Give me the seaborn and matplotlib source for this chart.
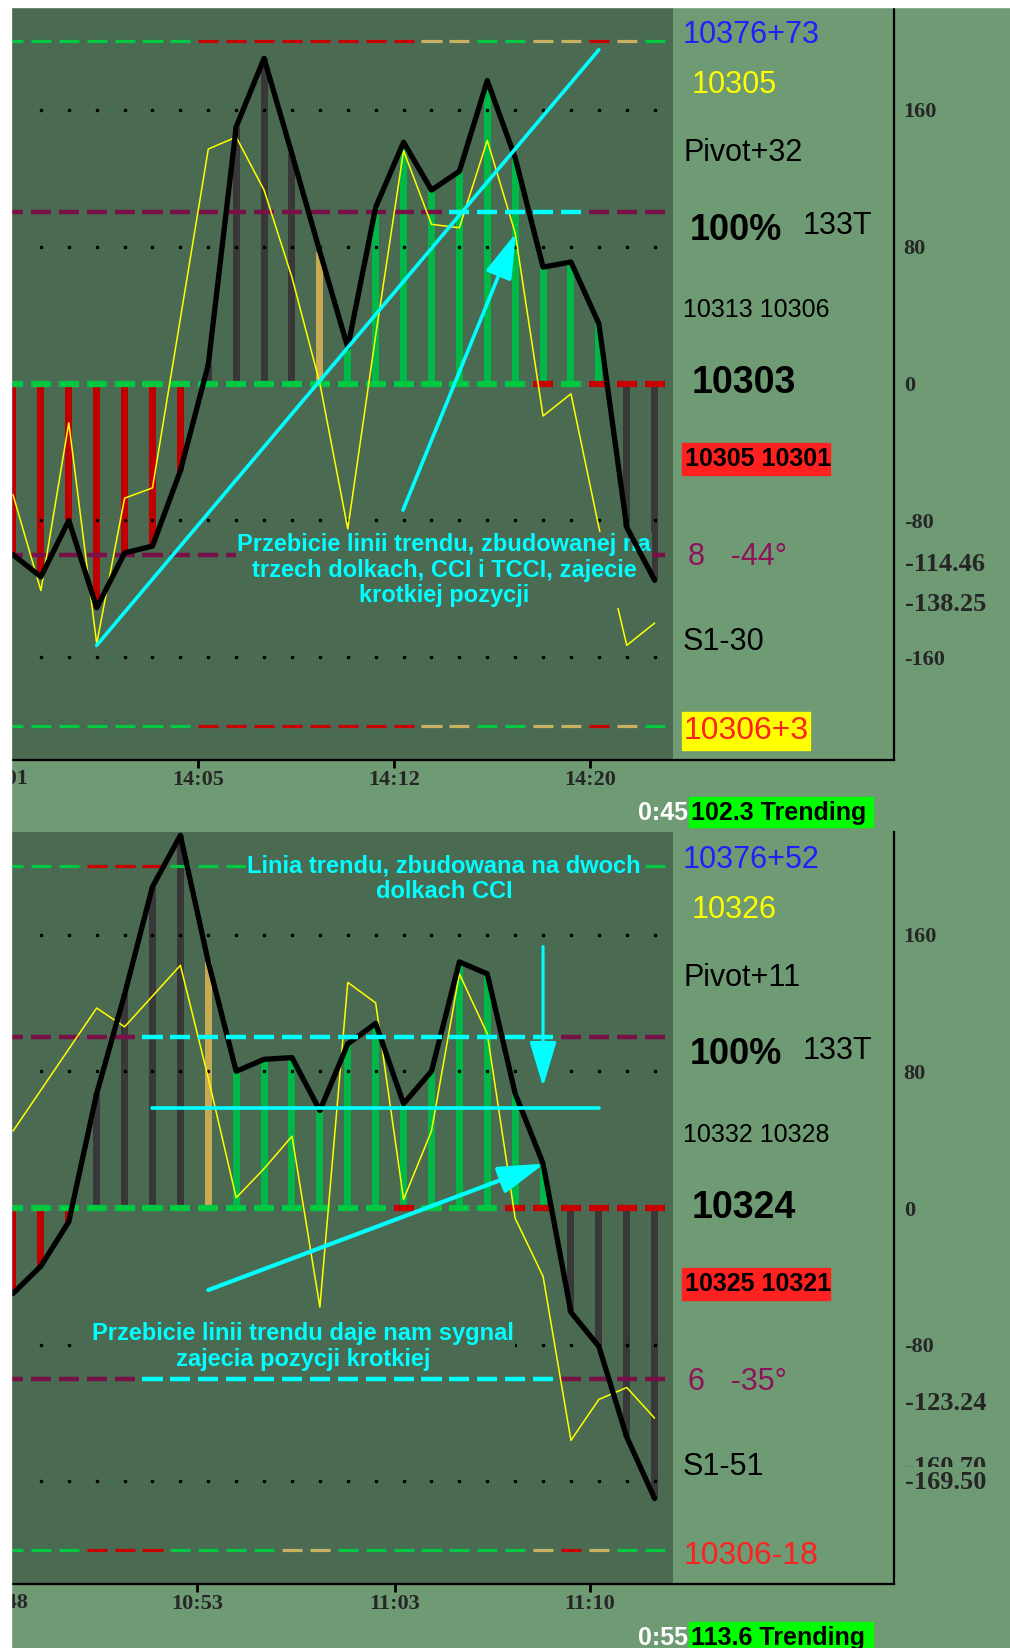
import numpy as np
import pandas as pd
import matplotlib
matplotlib.use('Agg')
import matplotlib.pyplot as plt
from matplotlib.patches import Rectangle
import seaborn as sns

W, H = 1010, 1648
DARK = '#4a6a52'
LIGHT = '#6e9a74'
CYAN = '#00ffff'

sns.set_theme(style='white')
plt.rcParams['font.family'] = ['Liberation Sans', 'DejaVu Sans']

# ---------------- data ----------------
bars = list(range(24))

# upper chart (14:01 - 14:21)
cci_top = [-100, -113, -80, -131, -99, -95, -51, 11, 150, 190, 134, 77,
           21, 103, 141, 113, 124, 177, 132, 68, 71, 35, -84, -115]
tcci_top = [-65, -121, -23, -152, -67, -61, 38, 137, 144, 113, 62, 0,
            -85, 28, 136, 93, 91, 142, 88, -19, -6, -84, -153, -140]
state_top = list('rrrrrrr' 'kkkk' 'y' 'gggggggggg' 'kk')
lv200_top = 'ggggggg' 'rrrrrrrr' 'yy' 'gg' 'yy' 'r' 'y' 'g'
lv100_top = 'p' * 16 + 'c' * 5 + 'p' * 3
lv0_top = 'g' * 19 + 'r' + 'g' + 'rrr'
lvm100_top = 'p' * 24
ticks_top = [6.63, 13.66, 20.68]
labels_top = ['14:05', '14:12', '14:20']
cut_top = '14:01'
end_top = [-114.46, -138.25]

# lower chart (10:48 - 11:12)
cci_bot = [-50, -34, -8, 67, 125, 188, 218, 144, 80, 87, 88, 57,
           96, 108, 61, 80, 144, 137, 67, 26, -61, -81, -134, -170]
tcci_bot = [45, 69, 93, 117, 106, 124, 142, 76, 6, 23, 42, -58,
            132, 120, 5, 45, 137, 102, -6, -40, -136, -112, -105, -123]
state_bot = list('rrr' 'kkkk' 'y' 'gggggggggggg' 'kkkk')
lv200_bot = 'ggg' 'rrr' 'gggg' 'yy' 'ggggggg' 'y' 'r' 'y' 'gg'
lv100_bot = 'ppppp' + 'c' * 15 + 'pppp'
lv0_bot = 'g' * 14 + 'r' + 'ggg' + 'r' * 6
lvm100_bot = lv100_bot
ticks_bot = [6.60, 13.69, 20.68]
labels_bot = ['10:53', '11:03', '11:10']
cut_bot = '10:48'
end_bot = [-123.24, -160.70, -169.50]

yticks = [160, 80, 0, -80, -160]

# hand-drawn annotations
trend_top_x, trend_top_y = [3, 21], [-153, 195]
arrow_top = [(13.98, -74), (18.03, 88)]
note_top = 'Przebicie linii trendu, zbudowanej na\ntrzech dolkach, CCI i TCCI, zajecie\nkrotkiej pozycji'
flat_bot_x, flat_bot_y = [5, 21], [58.5, 58.5]
arrow_down_bot = [(19.0, 153), (19.0, 71)]
arrow_diag_bot = [(7.0, -48), (19.05, 26)]
note_bot1 = 'Linia trendu, zbudowana na dwoch\ndolkach CCI'
note_bot2 = 'Przebicie linii trendu daje nam sygnal\nzajecia pozycji krotkiej'

info_top = ['10376+73', '10305', 'Pivot+32', '100%', '133T', '10313 10306',
            '10303', '10305 10301', '8   -44°', 'S1-30', '10306+3', '0:45', '102.3 Trending']
info_bot = ['10376+52', '10326', 'Pivot+11', '100%', '133T', '10332 10328',
            '10324', '10325 10321', '6   -35°', 'S1-51', '10306-18', '0:55', '113.6 Trending']

BAR_COLORS = {'r': '#c00000', 'k': '#383838', 'y': '#c8aa55', 'g': '#00b848'}
LEVEL_COLORS = {'g': '#00c840', 'r': '#c80000', 'y': '#c8b060', 'p': '#7a1048', 'c': CYAN}

X0, X1, XDARK = -0.072, 31.58, 23.66


def px_to_fig(x, y):
    return x / W, 1 - y / H


def level(ax, y, codes, lw):
    for code in sorted(set(codes)):
        xs = np.array([i for i, c in zip(bars, codes) if c == code])
        ax.hlines([y] * len(xs), xs - 0.36, xs + 0.36, colors=LEVEL_COLORS[code],
                  linewidth=lw, zorder=6 if code == 'c' else 2)


def panel(ax, cci, tcci, state, l200, l100, l0, lm100, ticks, labels, cut, ends):
    ax.set_facecolor(LIGHT)
    ax.axvspan(X0, XDARK, color=DARK, zorder=0, lw=0)
    df = pd.DataFrame({'bar': bars, 'cci': cci, 'state': state})
    sns.barplot(data=df, x='bar', y='cci', hue='state', palette=BAR_COLORS, dodge=False,
                native_scale=True, width=0.25, errorbar=None, legend=False,
                saturation=1, ax=ax, zorder=1, edgecolor='none', linewidth=0)
    for lv in yticks:
        if lv != 0:
            ax.plot(bars[1:], [lv] * (len(bars) - 1), ls='none', marker='s', ms=1.4,
                    color='black', zorder=2)
    level(ax, 200, l200, 2.3)
    level(ax, -200, l200, 2.3)
    level(ax, 100, l100, 3.2)
    level(ax, -100, lm100, 3.2)
    level(ax, 0, l0, 4.5)
    sns.lineplot(x=bars, y=tcci, color='#ffff00', linewidth=1.1, ax=ax, zorder=3)
    sns.lineplot(x=bars, y=cci, color='black', linewidth=3.8, ax=ax, zorder=5)

    ax.set_xlim(X0, X1)
    ax.set_ylim(-220, 220)
    ax.set_xlabel('')
    ax.set_ylabel('')
    ax.set_xticks(ticks)
    ax.set_xticklabels(labels, fontfamily='Liberation Serif', fontweight='bold', fontsize=16)
    ax.tick_params(axis='x', direction='out', length=6, width=2, color='black', pad=1.5,
                   bottom=True)
    ax.yaxis.tick_right()
    ax.set_yticks(yticks)
    ax.set_yticklabels([str(t) for t in yticks], fontfamily='Liberation Serif',
                       fontweight='bold', fontsize=16)
    ax.tick_params(axis='y', length=0, pad=7)
    for side in ['left', 'right', 'bottom']:
        ax.spines[side].set_visible(True)
        ax.spines[side].set_color('black')
        ax.spines[side].set_linewidth(1.6)
    ax.spines['top'].set_visible(False)
    ax.text(-0.39, -0.012, cut, transform=ax.get_xaxis_transform(), ha='center', va='top',
            fontfamily='Liberation Serif', fontweight='bold', fontsize=16, clip_on=False)
    for k, v in enumerate(ends):
        last = k == len(ends) - 1 and len(ends) == 3
        ax.annotate(f'{v:.2f}', xy=(1, v), xycoords=('axes fraction', 'data'),
                    xytext=(8, 11), textcoords='offset points', va='center', ha='left',
                    fontfamily='Liberation Serif', fontweight='bold', fontsize=19,
                    annotation_clip=False,
                    bbox=dict(fc=LIGHT, ec='none', pad=2.5) if last else None)


def info(fig, texts, dy):
    rows = [(683, 35, 22, 'normal', '#2020ff'), (692, 85, 22, 'normal', '#ffff00'),
            (683, 153, 22, 'normal', 'black'), (690, 230, 26, 'bold', 'black'),
            (803, 226, 22, 'normal', 'black'), (683, 310, 18, 'normal', 'black'),
            (692, 383, 27, 'bold', 'black'), (685, 459, 18, 'bold', 'black'),
            (688, 557, 22, 'normal', '#8c145a'), (683, 642, 22, 'normal', 'black'),
            (684, 731, 23, 'normal', '#ff2020')]
    # red box behind the high/low pair
    fig.add_artist(Rectangle(px_to_fig(682, 475 + dy), 148 / W, 32 / H,
                             transform=fig.transFigure, color='#ff2020', zorder=3))
    if dy == 0:
        fig.add_artist(Rectangle(px_to_fig(682, 750 + dy), 128 / W, 38 / H,
                                 transform=fig.transFigure, color='#ffff00', zorder=3))
    for s, (x, y, size, weight, color) in zip(texts[:11], rows):
        fig.text(*px_to_fig(x, y + dy), s, fontsize=size, fontweight=weight, color=color,
                 ha='left', va='center', zorder=4)
    fig.add_artist(Rectangle(px_to_fig(689, 827 + dy), 184 / W, 30 / H,
                             transform=fig.transFigure, color='#00ff00', zorder=3))
    fig.text(*px_to_fig(688, 813 + dy), texts[11], fontsize=18, fontweight='bold',
             color='white', ha='right', va='center', zorder=4)
    fig.text(*px_to_fig(691, 813 + dy), texts[12], fontsize=18, fontweight='bold',
             color='black', ha='left', va='center', zorder=4)


fig = plt.figure(figsize=(W / 100, H / 100), dpi=100, facecolor=LIGHT)
ax1 = fig.add_axes([11 / W, 1 - 760 / H, 883 / W, 753 / H])
ax2 = fig.add_axes([11 / W, 1 - 1584 / H, 883 / W, 752 / H])

panel(ax1, cci_top, tcci_top, state_top, lv200_top, lv100_top, lv0_top, lvm100_top,
      ticks_top, labels_top, cut_top, end_top)
panel(ax2, cci_bot, tcci_bot, state_bot, lv200_bot, lv100_bot, lv0_bot, lvm100_bot,
      ticks_bot, labels_bot, cut_bot, end_bot)

note_font = dict(fontfamily=['Liberation Sans', 'DejaVu Sans'], fontweight='bold',
                 fontsize=17, color=CYAN, ha='center', va='center', linespacing=1.15)
box = dict(fc=DARK, ec='none', pad=0.5)
head = '-|>,head_length=2.0,head_width=0.6'

# upper chart: rising trend line and arrow
sns.lineplot(x=trend_top_x, y=trend_top_y, color=CYAN, linewidth=2.6, ax=ax1, zorder=7)
ax1.annotate('', xy=arrow_top[1], xytext=arrow_top[0],
             arrowprops=dict(arrowstyle=head, color=CYAN, lw=2.6, shrinkA=0, shrinkB=0,
                             mutation_scale=14), zorder=7)
ax1.text(15.45, -109, note_top, bbox=box, zorder=4, **note_font)

# lower chart: flat trend line, arrows, notes
sns.lineplot(x=flat_bot_x, y=flat_bot_y, color=CYAN, linewidth=2.6, ax=ax2, zorder=7)
ax2.annotate('', xy=arrow_down_bot[1], xytext=arrow_down_bot[0],
             arrowprops=dict(arrowstyle=head, color=CYAN, lw=2.2, shrinkA=0, shrinkB=0,
                             mutation_scale=14), zorder=7)
ax2.annotate('', xy=arrow_diag_bot[1], xytext=arrow_diag_bot[0],
             arrowprops=dict(arrowstyle=head, color=CYAN, lw=3.0, shrinkA=0, shrinkB=0,
                             mutation_scale=14), zorder=7)
ax2.text(15.45, 192.6, note_bot1, bbox=box, zorder=4, **note_font)
ax2.text(10.4, -81, note_bot2, bbox=box, zorder=4, **note_font)

info(fig, info_top, 0)
info(fig, info_bot, 825)

# white margins of the screenshot
fig.add_artist(Rectangle((0, 0), 11 / W, 1, transform=fig.transFigure, color='white', zorder=50))
fig.add_artist(Rectangle((0, 1 - 7 / H), 1, 7 / H, transform=fig.transFigure, color='white', zorder=50))

fig.savefig('out.png', dpi=100, facecolor=LIGHT)
